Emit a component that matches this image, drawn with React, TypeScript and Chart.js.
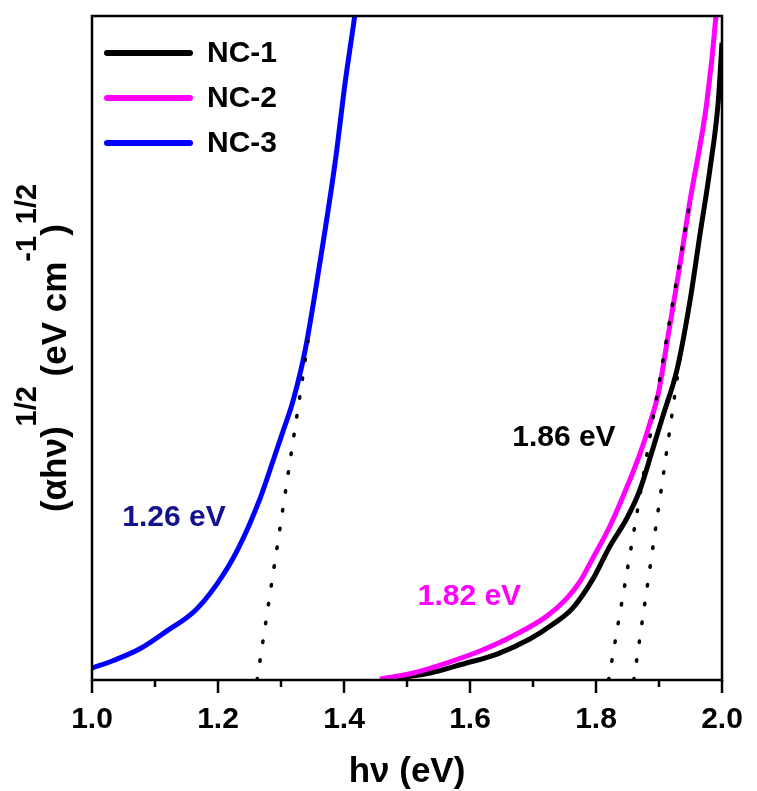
import React, { useEffect, useRef } from 'react';
import { Chart, registerables } from 'chart.js';
Chart.register(...registerables);

// ---- data ----
const xTickValues = [1.0, 1.2, 1.4, 1.6, 1.8, 2.0];
const seriesNames = ['NC-1', 'NC-2', 'NC-3'];
const seriesColors = ['#000000', '#ff00ff', '#0000ff'];

const nc1X = [1.484, 1.537, 1.589, 1.643, 1.695, 1.732, 1.763, 1.795, 1.822, 1.849, 1.870, 1.889, 1.906, 1.929, 1.949, 1.965, 1.981, 1.994, 2.0];
const nc1Y = [0.30, 1.05, 2.41, 3.91, 6.17, 8.42, 10.83, 15.19, 20.15, 24.36, 28.72, 34.44, 39.70, 46.92, 56.99, 67.07, 76.99, 87.07, 96.0];

const nc2X = [1.457, 1.510, 1.563, 1.616, 1.668, 1.722, 1.754, 1.775, 1.795, 1.822, 1.843, 1.870, 1.886, 1.899, 1.914, 1.932, 1.949, 1.976, 1.990, 1.996];
const nc2Y = [0.15, 1.05, 2.56, 4.36, 6.62, 9.62, 12.33, 14.89, 18.35, 23.16, 27.67, 34.14, 38.8, 43.2, 51.58, 61.80, 72.03, 87.07, 99.55, 108];

const nc3X = [1.0, 1.033, 1.076, 1.119, 1.163, 1.198, 1.230, 1.267, 1.287, 1.303, 1.319, 1.338, 1.362, 1.386, 1.402, 1.417, 1.425];
const nc3Y = [1.8, 2.9, 4.7, 7.4, 10.4, 14.4, 19.4, 27.4, 32.9, 37.4, 42.0, 49.5, 63.0, 78.0, 90.1, 100, 106];

// tangent (Tauc) extrapolation lines: [x0, y0, x1, y1]
const fitNC1 = [1.86, 0, 1.935, 49.5];
const fitNC2 = [1.82, 0, 1.949, 72.0];
const fitNC3 = [1.262, 0, 1.343, 51.0];

const gapLabels = ['1.26 eV', '1.82 eV', '1.86 eV'];
const gapLabelX = [1.048, 1.517, 1.667];
const gapLabelY = [24.4, 12.6, 36.5];
const gapLabelColors = ['#12128f', '#ff00ff', '#000000'];

const FONT = '"Liberation Sans", Arial, sans-serif';

const toPts = (xs: number[], ys: number[]) => xs.map((x, i) => ({ x, y: ys[i] }));
const fitPts = (f: number[]) => [{ x: f[0], y: f[1] }, { x: f[2], y: f[3] }];

const decorPlugin = {
  id: 'decor',
  afterDraw(chart: any) {
    const ctx = chart.ctx as CanvasRenderingContext2D;
    const a = chart.chartArea;
    const xs = chart.scales.x;
    const ys = chart.scales.y;
    ctx.save();
    // frame
    ctx.strokeStyle = '#000';
    ctx.lineWidth = 2.5;
    ctx.strokeRect(a.left, a.top, a.right - a.left, a.bottom - a.top);
    // ticks
    for (let i = 0; i <= 10; i++) {
      const v = 1 + i * 0.1;
      const px = xs.getPixelForValue(v);
      const len = i % 2 === 0 ? 13 : 7;
      ctx.beginPath();
      ctx.moveTo(px, a.bottom);
      ctx.lineTo(px, a.bottom + len);
      ctx.stroke();
    }
    // legend
    ctx.lineCap = 'round';
    ctx.textAlign = 'left';
    ctx.textBaseline = 'middle';
    ctx.font = `bold 30px ${FONT}`;
    const legY = [53, 98, 143];
    seriesNames.forEach((n, i) => {
      ctx.strokeStyle = seriesColors[i];
      ctx.lineWidth = 6;
      ctx.beginPath();
      ctx.moveTo(a.left + 15, legY[i]);
      ctx.lineTo(a.left + 98, legY[i]);
      ctx.stroke();
      ctx.fillStyle = '#000';
      ctx.fillText(n, a.left + 115, legY[i] + 1);
    });
    // gap labels
    ctx.font = `bold 30px ${FONT}`;
    gapLabels.forEach((t, i) => {
      ctx.fillStyle = gapLabelColors[i];
      ctx.fillText(t, xs.getPixelForValue(gapLabelX[i]), ys.getPixelForValue(gapLabelY[i]));
    });
    // x title
    ctx.fillStyle = '#000';
    ctx.textAlign = 'center';
    ctx.textBaseline = 'alphabetic';
    ctx.font = `bold 35px ${FONT}`;
    ctx.fillText('h\u03BD (eV)', (a.left + a.right) / 2, 782);
    // y title (rotated, with superscripts)
    const parts = [
      { t: '(\u03B1h\u03BD)', sup: false },
      { t: '1/2', sup: true },
      { t: ' (eV cm', sup: false },
      { t: '-1', sup: true },
      { t: ')', sup: false },
      { t: '1/2', sup: true },
    ];
    const mainF = `bold 35px ${FONT}`;
    const supF = `bold 29px ${FONT}`;
    let total = 0;
    const widths = parts.map((p) => {
      ctx.font = p.sup ? supF : mainF;
      const w = ctx.measureText(p.t).width;
      total += w;
      return w;
    });
    ctx.translate(66, (a.top + a.bottom) / 2);
    ctx.rotate(-Math.PI / 2);
    ctx.textAlign = 'left';
    let u = -total / 2;
    parts.forEach((p, i) => {
      ctx.font = p.sup ? supF : mainF;
      ctx.fillText(p.t, u, p.sup ? -30 : 0);
      u += widths[i];
    });
    ctx.restore();
  },
};

export default function App() {
  const ref = useRef<HTMLCanvasElement | null>(null);
  useEffect(() => {
    if (!ref.current) return;
    const lineDs = (label: string, data: any[], color: string) => ({
      label,
      data,
      borderColor: color,
      backgroundColor: color,
      borderWidth: 5,
      pointRadius: 0,
      cubicInterpolationMode: 'monotone' as const,
      clip: 0,
    });
    const dotDs = (label: string, data: any[]) => ({
      label,
      data,
      borderColor: '#000',
      borderWidth: 3.5,
      borderDash: [1.5, 17.5],
      borderCapStyle: 'round' as const,
      pointRadius: 0,
      clip: 0,
    });
    const chart = new Chart(ref.current, {
      type: 'line',
      data: {
        datasets: [
          dotDs('fit NC-3', fitPts(fitNC3)),
          dotDs('fit NC-2', fitPts(fitNC2)),
          dotDs('fit NC-1', fitPts(fitNC1)),
          lineDs(seriesNames[2], toPts(nc3X, nc3Y), seriesColors[2]),
          lineDs(seriesNames[1], toPts(nc2X, nc2Y), seriesColors[1]),
          lineDs(seriesNames[0], toPts(nc1X, nc1Y), seriesColors[0]),
        ],
      },
      options: {
        animation: false,
        responsive: false,
        layout: { padding: { left: 92, right: 35, top: 16, bottom: 0 } },
        plugins: { legend: { display: false }, tooltip: { enabled: false } },
        scales: {
          x: {
            type: 'linear',
            min: 1.0,
            max: 2.0,
            afterFit: (s: any) => {
              s.height = 111;
              s.paddingLeft = 0;
              s.paddingRight = 0;
            },
            afterBuildTicks: (s: any) => { s.ticks = xTickValues.map((v) => ({ value: v })); },
            grid: { display: false, drawTicks: false },
            border: { display: false },
            ticks: {
              padding: 22,
              color: '#000',
              font: { family: FONT, size: 30, weight: 'bold' },
              callback: (v: any) => Number(v).toFixed(1),
              maxRotation: 0,
            },
          },
          y: { type: 'linear', min: 0, max: 100, display: false },
        },
      },
      plugins: [decorPlugin],
    });
    return () => chart.destroy();
  }, []);
  return (
    <canvas
      ref={ref}
      width={757}
      height={791}
      style={{ position: 'fixed', left: 0, top: 0, display: 'block', background: '#fff' }}
    />
  );
}
